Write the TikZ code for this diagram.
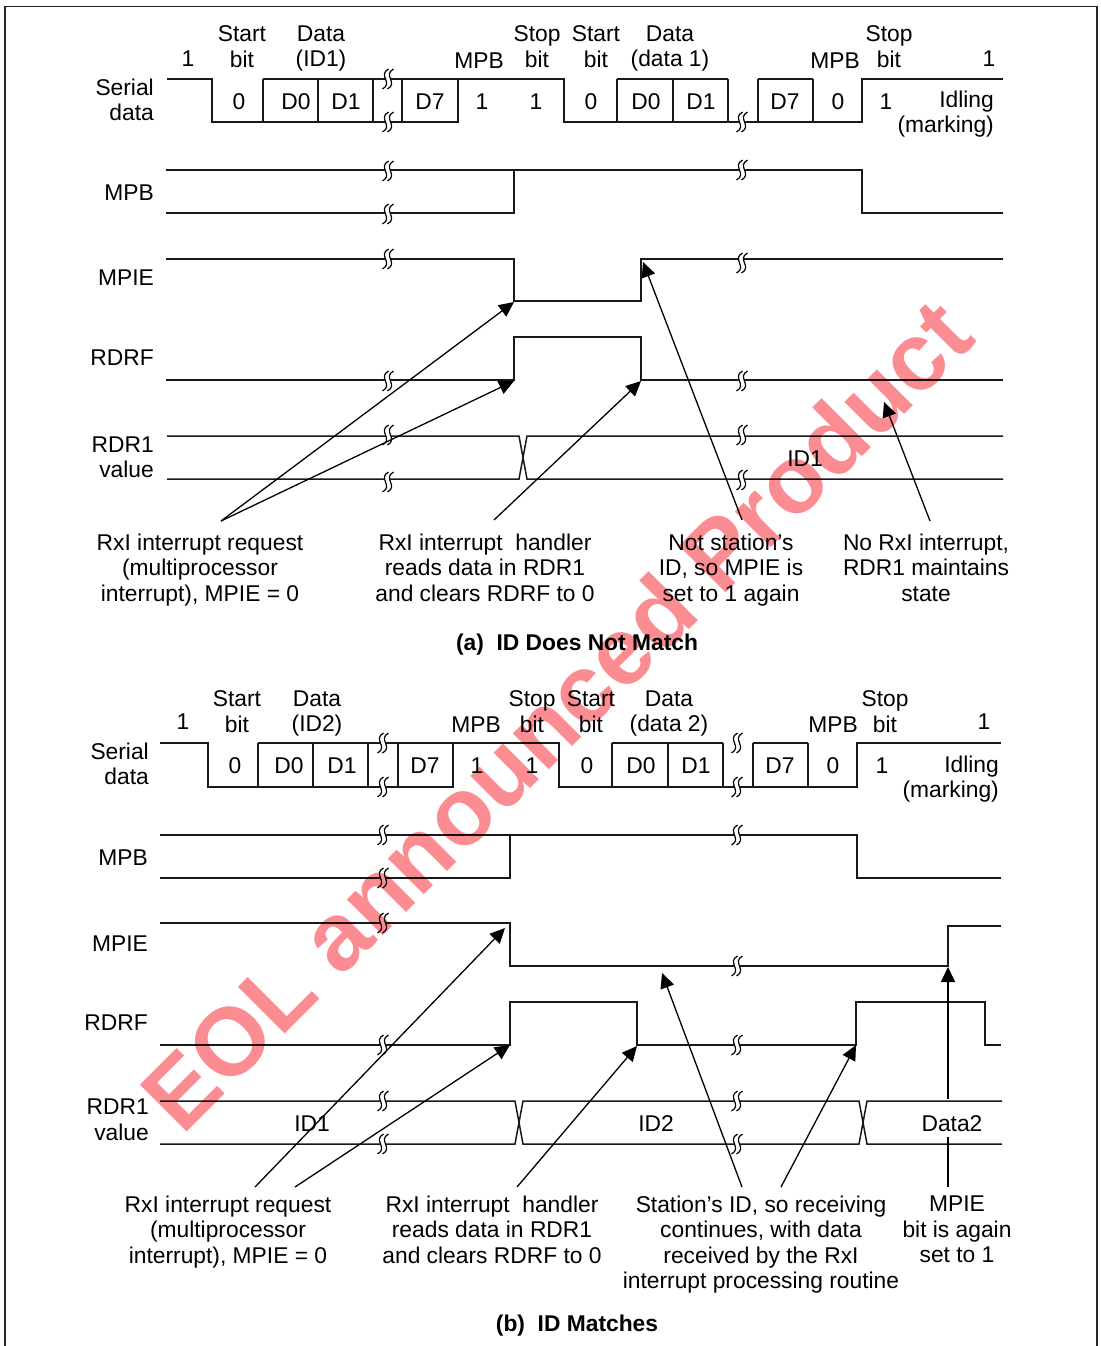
\documentclass[tikz,border=0pt]{standalone}
\usepackage{fontspec}
\setmainfont{Liberation Sans}
\usetikzlibrary{arrows.meta,calc}
\definecolor{wm}{RGB}{250,140,146}
\tikzset{
  wave/.style={line width=1.5pt,line join=miter,black!90},
  lab/.style={anchor=north,inner sep=0pt,yshift=9.2pt,align=center,font=\fontsize{22.8}{25.3}\selectfont,execute at begin node=\strut},
  rlab/.style={lab,anchor=north east,align=right},
  captxt/.style={lab,font=\fontsize{22.8}{25.3}\selectfont\bfseries},
  conn/.style={line width=1.3pt,black,-{Triangle[length=15pt,width=14pt]}},
  plainline/.style={line width=1.3pt,black},
  brk/.pic={
    \fill[white] (5.5,-10) .. controls (-5.5,-4) and (10.5,4) .. (-0.5,10) -- (-5.5,10) .. controls (5.5,4) and (-10.5,-4) .. (0.5,-10) -- cycle;
    \draw[line width=1.2pt,black] (5.5,-10) .. controls (-5.5,-4) and (10.5,4) .. (-0.5,10);
    \draw[line width=1.2pt,black] (0.5,-10) .. controls (-10.5,-4) and (5.5,4) .. (-5.5,10);
  }
}
\begin{document}
\begin{tikzpicture}[x=1pt,y=-1pt]
\useasboundingbox (0,0) rectangle (1100,1346);
\draw[line width=1.4pt,black!85] (5,1346) -- (5,6.5) -- (1097,6.5) -- (1097,1346);

%% ---------- (a) waveforms
\draw[wave] (167,79) -- (212,79) -- (212,122) -- (458,122) -- (458,79) -- (564,79) -- (564,122) -- (862,122) -- (862,79) -- (1003,79);
\draw[wave] (263,79) -- (458,79);
\draw[wave] (617,79) -- (728,79) (758,79) -- (813,79);
\foreach \x in {263,318,373,402} \draw[wave] (\x,79) -- (\x,122);
\foreach \x in {617,673,728,758,813} \draw[wave] (\x,79) -- (\x,122);
\draw[wave] (166,170) -- (862,170) -- (862,213) -- (1003,213);
\draw[wave] (166,213) -- (514,213) -- (514,170);
\draw[wave] (166,259) -- (514,259) -- (514,301) -- (641,301) -- (641,259) -- (1003,259);
\draw[wave] (166,380) -- (514,380) -- (514,337) -- (641,337) -- (641,380) -- (1003,380);
\draw[wave] (167,436) -- (519,436) -- (527,479) -- (1003,479);
\draw[wave] (167,479) -- (519,479) -- (527,436) -- (1003,436);
\foreach \y in {79,122,171,214,259,381,435,482} \pic at (388,\y) {brk};
\foreach \y in {122,170,263,381,435,480} \pic at (742,\y) {brk};

%% ---------- (b) waveforms
\draw[wave] (160,743) -- (208,743) -- (208,787) -- (453,787) -- (453,743) -- (559,743) -- (559,787) -- (857,787) -- (857,743) -- (1001,743);
\draw[wave] (258,743) -- (453,743);
\draw[wave] (612,743) -- (723,743) (753,743) -- (808,743);
\foreach \x in {258,313,368,398} \draw[wave] (\x,743) -- (\x,787);
\foreach \x in {612,668,723,753,808} \draw[wave] (\x,743) -- (\x,787);
\draw[wave] (160,835) -- (857,835) -- (857,878) -- (1001,878);
\draw[wave] (160,878) -- (510,878) -- (510,835);
\draw[wave] (160,923) -- (510,923) -- (510,966) -- (948,966) -- (948,926) -- (1001,926);
\draw[wave] (160,1045) -- (510,1045) -- (510,1002) -- (637,1002) -- (637,1045) -- (856,1045) -- (856,1002) -- (985,1002) -- (985,1045) -- (1001,1045);
\draw[wave] (160,1101) -- (515,1101) -- (523,1144) -- (859,1144) -- (867,1101) -- (1002,1101);
\draw[wave] (160,1144) -- (515,1144) -- (523,1101) -- (859,1101) -- (867,1144) -- (1002,1144);
\foreach \y in {743,787,835,878,923,1045,1101,1144} \pic at (383,\y) {brk};
\foreach \y in {743,787,835,966,1045,1101,1144} \pic at (737,\y) {brk};

%% ---------- (a) labels
\node[lab] (a1) at (188,58) {1};
\node[lab] (astart) at (242,35) {Start\\bit};
\node[lab] (adata) at (321,35) {Data\\(ID1)};
\node[lab] (ampb) at (479,60) {MPB};
\node[lab] (astop) at (537,35) {Stop\\bit};
\node[lab] (astartb) at (596,35) {Start\\bit};
\node[lab] (adatab) at (670,35) {Data\\(data 1)};
\node[lab] (ampbb) at (835,60) {MPB};
\node[lab] (astopb) at (889,35) {Stop\\bit};
\node[lab] (aone) at (989,58) {1};
\node[lab] (ab0) at (239,101) {0};
\node[lab] (ab1) at (296,101) {D0};
\node[lab] (ab2) at (346,101) {D1};
\node[lab] (ab3) at (430,101) {D7};
\node[lab] (ab4) at (482,101) {1};
\node[lab] (ab5) at (536,101) {1};
\node[lab] (ab6) at (591,101) {0};
\node[lab] (ab7) at (646,101) {D0};
\node[lab] (ab8) at (701,101) {D1};
\node[lab] (ab9) at (785,101) {D7};
\node[lab] (ab10) at (838,101) {0};
\node[lab] (ab11) at (886,101) {1};
\node[rlab] (aidle) at (994,100) {Idling\\(marking)};
\node[rlab] (aser) at (154,88) {Serial\\data};
\node[rlab] (ampbl) at (154,192) {MPB};
\node[rlab] (ampie) at (154,277) {MPIE};
\node[rlab] (ardrf) at (154,357) {RDRF};
\node[rlab] (ardr) at (154,446) {RDR1\\value};
\node[lab] (aid) at (805,458) {ID1};
\node[lab] (at1) at (200,543) {RxI interrupt request\\(multiprocessor\\interrupt), MPIE = 0};
\node[lab] (at2) at (485,543) {RxI interrupt\ \ handler\\reads data in RDR1\\and clears RDRF to 0};
\node[lab] (at3) at (731,543) {Not station’s\\ID, so MPIE is\\set to 1 again};
\node[lab] (at4) at (926,543) {No RxI interrupt,\\RDR1 maintains\\state};
\node[captxt] (acap) at (577,642) {(a)\ \ ID Does Not Match};

%% ---------- (b) labels
\node[lab] (b1) at (183,721) {1};
\node[lab] (bstart) at (237,700) {Start\\bit};
\node[lab] (bdata) at (317,700) {Data\\(ID2)};
\node[lab] (bmpb) at (476,724) {MPB};
\node[lab] (bstop) at (532,700) {Stop\\bit};
\node[lab] (bstartb) at (591,700) {Start\\bit};
\node[lab] (bdatab) at (669,700) {Data\\(data 2)};
\node[lab] (bmpbb) at (833,724) {MPB};
\node[lab] (bstopb) at (885,700) {Stop\\bit};
\node[lab] (bone) at (984,721) {1};
\node[lab] (bb0) at (235,765) {0};
\node[lab] (bb1) at (289,765) {D0};
\node[lab] (bb2) at (342,765) {D1};
\node[lab] (bb3) at (425,765) {D7};
\node[lab] (bb4) at (477,765) {1};
\node[lab] (bb5) at (532,765) {1};
\node[lab] (bb6) at (587,765) {0};
\node[lab] (bb7) at (641,765) {D0};
\node[lab] (bb8) at (696,765) {D1};
\node[lab] (bb9) at (780,765) {D7};
\node[lab] (bb10) at (833,765) {0};
\node[lab] (bb11) at (882,765) {1};
\node[rlab] (bidle) at (999,765) {Idling\\(marking)};
\node[rlab] (bser) at (149,752) {Serial\\data};
\node[rlab] (bmpbl) at (148,857) {MPB};
\node[rlab] (bmpie) at (148,943) {MPIE};
\node[rlab] (brdrf) at (148,1022) {RDRF};
\node[rlab] (brdr) at (149,1108) {RDR1\\value};
\node[lab] (bid) at (312,1123) {ID1};
\node[lab] (bidb) at (656,1123) {ID2};
\node[anchor=base,inner sep=0pt,text height=32pt,text depth=6pt,font=\fontsize{22.8}{25.3}\selectfont] (bdt) at (952,1131) {Data2};
\node[lab] (bt1) at (228,1205) {RxI interrupt request\\(multiprocessor\\interrupt), MPIE = 0};
\node[lab] (bt2) at (492,1205) {RxI interrupt\ \ handler\\reads data in RDR1\\and clears RDRF to 0};
\node[lab] (bt3) at (761,1205) {Station’s ID, so receiving\\continues, with data\\received by the RxI\\interrupt processing routine};
\node[lab] (bt4) at (957,1205) {MPIE\\bit is again\\set to 1};
\node[captxt] (bcap) at (577,1323) {(b)\ \ ID Matches};

%% ---------- connectors (a)
\coordinate (as1) at (221,521);
\coordinate (as2) at (494,520);
\coordinate (as3) at (742,520);
\coordinate (as4) at (930,521);
\coordinate (ae1) at (514,302);
\coordinate (ae2) at (514,381);
\coordinate (ae3) at (641,381);
\coordinate (ae4) at (643,262);
\coordinate (ae5) at (884,402);
\draw[conn] (as1) -- (ae1);
\draw[conn] (as1) -- (ae2);
\draw[conn] (as2) -- (ae3);
\draw[conn] (as3) -- (ae4);
\draw[conn] (as4) -- (ae5);

%% ---------- connectors (b)
\coordinate (bs1) at (255,1187);
\coordinate (bs2) at (295,1187);
\coordinate (bs3) at (517,1187);
\coordinate (bs4) at (742,1187);
\coordinate (bs5) at (781,1187);
\coordinate (bs6) at (948,1187);
\coordinate (be1) at (505,928);
\coordinate (be2) at (510,1045);
\coordinate (be3) at (637,1046);
\coordinate (be4) at (662,973);
\coordinate (be5) at (856,1045);
\coordinate (be6) at (948,967);
\draw[conn] (bs1) -- (be1);
\draw[conn] (bs2) -- (be2);
\draw[conn] (bs3) -- (be3);
\draw[conn] (bs4) -- (be4);
\draw[conn] (bs5) -- (be5);
\draw[plainline] (bs6) -- (bs6 |- bdt.south);
\draw[conn] (bs6 |- bdt.north) -- (be6);

%% ---------- watermark
\begin{scope}[blend mode=multiply]
\node[anchor=base west,inner sep=0pt,rotate=45,text=wm,font=\fontsize{96}{100}\selectfont\bfseries] (wmk) at (182,1137) {EOL announced Product};
\end{scope}
\end{tikzpicture}
\end{document}
